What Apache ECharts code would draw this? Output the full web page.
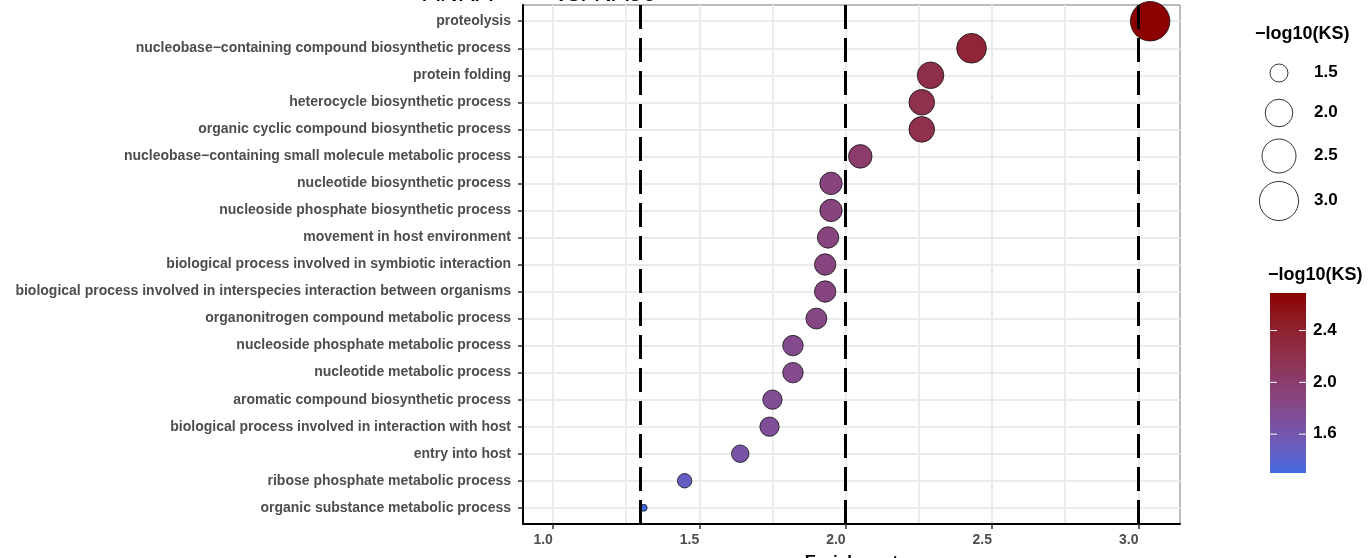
<!DOCTYPE html>
<html><head><meta charset="utf-8">
<script src="https://cdn.jsdelivr.net/npm/echarts@6/dist/echarts.min.js"></script>
<style>html,body{margin:0;padding:0;background:#fff}#c{width:1369px;height:558px}</style>
</head><body><div id="c"></div>
<script>
const categories = [
  "proteolysis",
  "nucleobase−containing compound biosynthetic process",
  "protein folding",
  "heterocycle biosynthetic process",
  "organic cyclic compound biosynthetic process",
  "nucleobase−containing small molecule metabolic process",
  "nucleotide biosynthetic process",
  "nucleoside phosphate biosynthetic process",
  "movement in host environment",
  "biological process involved in symbiotic interaction",
  "biological process involved in interspecies interaction between organisms",
  "organonitrogen compound metabolic process",
  "nucleoside phosphate metabolic process",
  "nucleotide metabolic process",
  "aromatic compound biosynthetic process",
  "biological process involved in interaction with host",
  "entry into host",
  "ribose phosphate metabolic process",
  "organic substance metabolic process"
];
const enrichment = [3.04, 2.43, 2.29, 2.26, 2.26, 2.05, 1.95, 1.95, 1.94, 1.93, 1.93, 1.90, 1.82, 1.82, 1.75, 1.74, 1.64, 1.45, 1.31];
const ksColor = [2.69, 2.36, 2.24, 2.21, 2.21, 2.02, 1.90, 1.90, 1.89, 1.88, 1.88, 1.86, 1.80, 1.80, 1.75, 1.74, 1.64, 1.47, 1.30];
const ksSize = [3.04, 2.15, 1.93, 1.87, 1.87, 1.75, 1.69, 1.69, 1.64, 1.64, 1.64, 1.62, 1.60, 1.60, 1.55, 1.55, 1.48, 1.39, 1.30];
const xTicks = [1.0, 1.5, 2.0, 2.5, 3.0];
const xGridLines = [1.0, 1.25, 1.5, 1.75, 2.0, 2.25, 2.5, 2.75, 3.0];
const cutoffs = [1.301, 2.0, 3.0];
const sizeBreaks = [1.5, 2.0, 2.5, 3.0];
const colorBreaks = [1.6, 2.0, 2.4];
const xMin = 0.898, xMax = 3.142;

const FONT = "'Liberation Sans', Arial, sans-serif";

// ---- Lab gradient (royalblue -> darkred) ----
function hexToRgb(h){h=h.replace('#','');return [parseInt(h.slice(0,2),16),parseInt(h.slice(2,4),16),parseInt(h.slice(4,6),16)];}
function s2l(c){c/=255;return c<=0.04045?c/12.92:Math.pow((c+0.055)/1.055,2.4);}
function l2s(c){const v=c<=0.0031308?12.92*c:1.055*Math.pow(c,1/2.4)-0.055;return Math.round(Math.max(0,Math.min(1,v))*255);}
function rgbToLab(rgb){const R=s2l(rgb[0]),G=s2l(rgb[1]),B=s2l(rgb[2]);
  const X=(0.4124*R+0.3576*G+0.1805*B)/0.95047,Y=0.2126*R+0.7152*G+0.0722*B,Z=(0.0193*R+0.1192*G+0.9505*B)/1.08883;
  const f=t=>t>0.008856?Math.cbrt(t):7.787*t+16/116;
  return [116*f(Y)-16,500*(f(X)-f(Y)),200*(f(Y)-f(Z))];}
function labToRgb(lab){const fy=(lab[0]+16)/116,fx=fy+lab[1]/500,fz=fy-lab[2]/200;
  const fi=t=>t*t*t>0.008856?t*t*t:(t-16/116)/7.787;
  const X=fi(fx)*0.95047,Y=fi(fy),Z=fi(fz)*1.08883;
  const R=3.2406*X-1.5372*Y-0.4986*Z,G=-0.9689*X+1.8758*Y+0.0415*Z,B=0.0557*X-0.2040*Y+1.0570*Z;
  return 'rgb('+l2s(R)+','+l2s(G)+','+l2s(B)+')';}
const lowLab = rgbToLab(hexToRgb('#4169E1')), highLab = rgbToLab(hexToRgb('#8B0000'));
const NSTOP = 24;
const gradStops = [];
for (let i=0;i<=NSTOP;i++){const t=i/NSTOP;gradStops.push(labToRgb([0,1,2].map(k=>lowLab[k]+(highLab[k]-lowLab[k])*t)));}

const cMin = Math.min(...ksColor), cMax = Math.max(...ksColor);
const sMin = Math.min(...ksSize), sMax = Math.max(...ksSize);
const dMin = 7, dMax = 39.5;
function sizeFn(v){const t=Math.max(0,Math.min(1,(v-sMin)/(sMax-sMin)));return dMin+(dMax-dMin)*Math.sqrt(t);}

const data = categories.map((c,i)=>[enrichment[i], i, ksColor[i], ksSize[i]]);
const yIdx = categories.map((_,i)=>i);

// ---- legends (graphic) ----
const graphics = [];
graphics.push({type:'text', x:423, y:7, z:100, style:{text:'ANRA', font:'25px '+FONT, fill:'#000', verticalAlign:'bottom'}});
graphics.push({type:'text', x:555, y:7, z:100, style:{text:'vs. NA50', font:'25px '+FONT, fill:'#000', verticalAlign:'bottom'}});
graphics.push({type:'text', left:1255, top:25, style:{text:'−log10(KS)', font:'bold 18px '+FONT, fill:'#000'}});
const sizeRowY = [73, 113, 156, 201];
sizeBreaks.forEach((v,i)=>{
  graphics.push({type:'circle', shape:{cx:1279, cy:sizeRowY[i], r:sizeFn(v)/2}, style:{fill:'#fff', stroke:'#000', lineWidth:0.8}});
  graphics.push({type:'text', left:1314, top:sizeRowY[i]-9, style:{text:v.toFixed(1), font:'bold 17px '+FONT, fill:'#000'}});
});
graphics.push({type:'text', left:1268, top:266, style:{text:'−log10(KS)', font:'bold 18px '+FONT, fill:'#000'}});
const barX=1270, barTop=293, barW=36, barH=180;
graphics.push({type:'rect', shape:{x:barX, y:barTop, width:barW, height:barH}, style:{
  fill:new echarts.graphic.LinearGradient(0,1,0,0, gradStops.map((c,i)=>({offset:i/NSTOP, color:c})))}});
colorBreaks.forEach(v=>{
  const y = barTop + barH*(1-(v-cMin)/(cMax-cMin));
  graphics.push({type:'line', shape:{x1:barX, y1:y, x2:barX+7, y2:y}, style:{stroke:'#fff', lineWidth:1}});
  graphics.push({type:'line', shape:{x1:barX+barW-7, y1:y, x2:barX+barW, y2:y}, style:{stroke:'#fff', lineWidth:1}});
  graphics.push({type:'text', left:1313, top:y-9, style:{text:v.toFixed(1), font:'bold 17px '+FONT, fill:'#000'}});
});

const chart = echarts.init(document.getElementById('c'), null, {renderer:'canvas'});
chart.setOption({
  animation:false,
  backgroundColor:'#fff',
  grid:{left:523, top:5, width:657, height:519, show:true, borderColor:'#7a7a7a', borderWidth:1, backgroundColor:'#fff', containLabel:false, outerBoundsMode:'none'},
  xAxis:[{
    type:'value', min:xMin, max:xMax, position:'bottom',
    axisLine:{show:true, onZero:false, lineStyle:{color:'#000', width:2}},
    axisTick:{show:true, customValues:xTicks, length:5, lineStyle:{color:'#333', width:1.5}},
    axisLabel:{customValues:xTicks, formatter:v=>v.toFixed(1), color:'#4D4D4D', fontWeight:'bold', fontSize:14, fontFamily:FONT, align:'right', margin:9},
    splitLine:{show:false},
    name:'Enrichment', nameLocation:'middle', nameGap:30,
    nameTextStyle:{color:'#000', fontWeight:'bold', fontSize:17, fontFamily:FONT}
  },{
    type:'value', min:xMin, max:xMax, position:'top',
    axisLine:{show:false}, axisLabel:{show:false},
    axisTick:{show:false, customValues:xGridLines},
    splitLine:{show:true, lineStyle:{color:'#EBEBEB', width:2}}
  }],
  yAxis:{
    type:'value', min:-0.6, max:18.6, inverse:true,
    axisLine:{show:true, onZero:false, lineStyle:{color:'#000', width:2}},
    axisTick:{show:true, customValues:yIdx, length:5, lineStyle:{color:'#333', width:1.5}},
    axisLabel:{customValues:yIdx, formatter:v=>categories[Math.round(v)], color:'#4D4D4D', fontWeight:'bold', fontSize:14, fontFamily:FONT, margin:12},
    splitLine:{show:true, lineStyle:{color:'#EBEBEB', width:2}}
  },
  visualMap:{show:false, type:'continuous', seriesIndex:0, dimension:2, min:cMin, max:cMax, inRange:{color:gradStops}},
  series:[{
    type:'scatter', xAxisIndex:0, data:data, clip:true,
    symbolSize:v=>sizeFn(v[3]),
    itemStyle:{borderColor:'#111', borderWidth:0.8, opacity:1},
    markLine:{silent:true, symbol:'none', label:{show:false}, animation:false,
      lineStyle:{color:'#000', width:3, type:[24,9]},
      data:cutoffs.map(v=>({xAxis:v}))}
  }],
  graphic:graphics
});
</script></body></html>
